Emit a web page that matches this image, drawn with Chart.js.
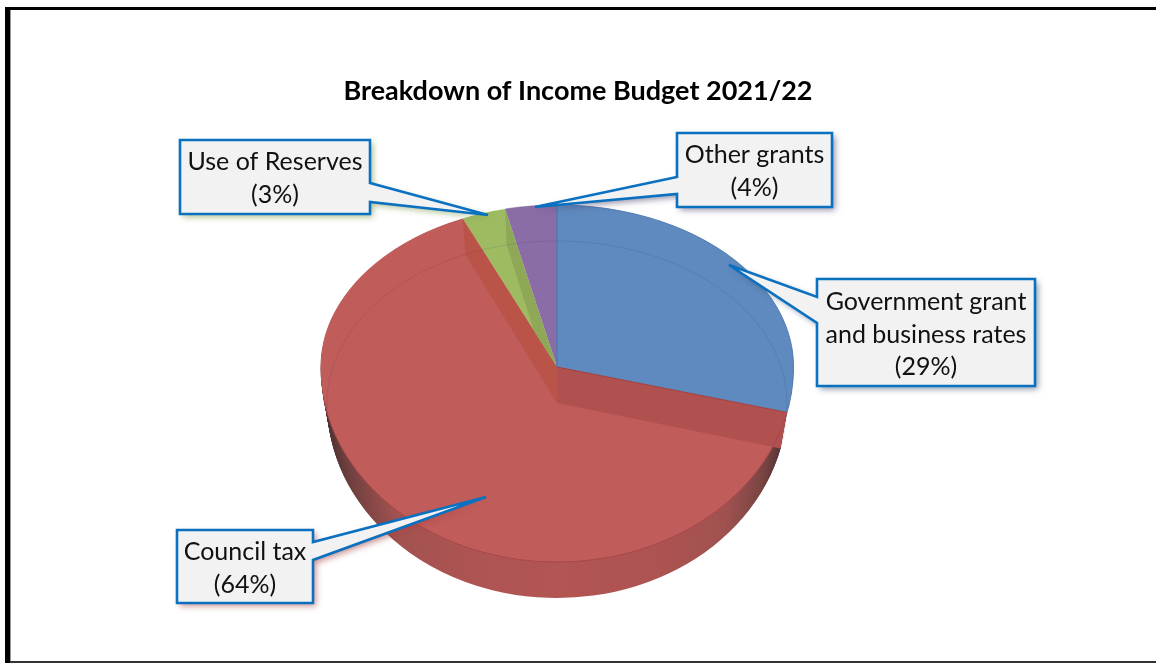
<!DOCTYPE html>
<html><head><meta charset="utf-8">
<style>html,body{margin:0;padding:0;background:#fff;overflow:hidden}canvas{display:block}</style>
<script src="https://cdn.jsdelivr.net/npm/chart.js@4"></script>
</head><body><canvas id="c" width="1156" height="663"></canvas>
<script>
const chartTitle = 'Breakdown of Income Budget 2021/22';
const categories = ['Government grant and business rates', 'Council tax', 'Use of Reserves', 'Other grants'];
const values = [28.6, 64.4, 3.0, 3.5];
const sliceColors = ['#5E8ABF', '#C05D5A', '#9EBB62', '#8A6CA6'];
const labelLines = [['Government grant', 'and business rates', '(29%)'], ['Council tax', '(64%)'], ['Use of Reserves', '(3%)'], ['Other grants', '(4%)']];

// layout of the tilted pie and its callouts (page pixels)
const P = {cx: 557, ay: 367, rx: 236.5, up: 162, down: 195, depth: 36, shrink: 0.972};
const callouts = [
  {box: [817, 279, 1035, 386], side: 'l', a: 297, b: 323, tip: [729, 265], lh: 32.5, y0: 302, shadow: 'rgba(60,80,110,.6)'},
  {box: [177, 530, 313, 603], side: 'r', a: 542, b: 560, tip: [486, 497], lh: 33, y0: 552, shadow: 'rgba(170,70,70,.6)'},
  {box: [180, 140, 370, 214], side: 'r', a: 183, b: 202, tip: [488, 215], lh: 33, y0: 162, shadow: 'rgba(120,150,70,.6)'},
  {box: [677, 133, 832, 207], side: 'l', a: 177, b: 194, tip: [535, 207], lh: 33, y0: 155, shadow: 'rgba(80,70,110,.6)'}
];

function drawArc(ctx, arc, dy, k, fill) {
  const R = arc.outerRadius;
  const saved = arc.options;
  if (fill) { const o = Object.create(saved); o.backgroundColor = fill; arc.options = o; }
  [[P.up, -2000, 2000], [P.down, 0, 2000]].forEach(([ry, top, h]) => {
    ctx.save();
    ctx.beginPath();
    ctx.rect(0, P.ay + dy + top, 1156, h);
    ctx.clip();
    ctx.translate(P.cx, P.ay + dy);
    ctx.scale(P.rx * k / R, ry / R);
    ctx.translate(-arc.x, -arc.y);
    arc.draw(ctx);
    ctx.restore();
  });
  arc.options = saved;
}
function proj(a, dy, k) {
  const X = Math.cos(a), Y = Math.sin(a);
  return [P.cx + P.rx * k * X, P.ay + dy + (Y < 0 ? P.up : P.down) * Y];
}
function rim(ctx, a0, a1, dy, k) {
  // outline along the tilted circle between two canvas angles
  const pts = 160;
  ctx.beginPath();
  for (let i = 0; i <= pts; i++) {
    const p = proj(a0 + (a1 - a0) * i / pts, dy, k);
    i ? ctx.lineTo(p[0], p[1]) : ctx.moveTo(p[0], p[1]);
  }
}
function wallQuad(ctx, a, color) {
  const e0 = proj(a, 0, 1), e1 = proj(a, P.depth, P.shrink);
  ctx.beginPath();
  ctx.moveTo(P.cx, P.ay);
  ctx.lineTo(P.cx, P.ay + P.depth);
  ctx.lineTo(e1[0], e1[1]);
  ctx.lineTo(e0[0], e0[1]);
  ctx.closePath();
  ctx.fillStyle = color;
  ctx.fill();
}

const tiltedPie = {
  id: 'tiltedPie',
  beforeDatasetDraw(chart) {
    const ctx = chart.ctx;
    const arcs = chart.getDatasetMeta(0).data;
    const [blue, red, green, purple] = arcs;
    const R = red.outerRadius;
    // side wall
    const g = ctx.createLinearGradient(red.x - R, 0, red.x + R, 0);
    [[0, '#4a2f2f'], [.05, '#6d3f3e'], [.16, '#a25250'], [.3, '#ad5452'], [.5, '#b25553'], [.72, '#ad5351'], [.86, '#a05250'], [.94, '#7a4443'], [1, '#4a2f2f']]
      .forEach(s => g.addColorStop(s[0], s[1]));
    for (let d = P.depth; d >= 1; d--) {
      drawArc(ctx, red, d, 1 - (1 - P.shrink) * d / P.depth, g);
    }
    // faces
    arcs.forEach(a => drawArc(ctx, a, 0, 1));
    // inner walls seen through the faces
    ctx.save();
    wallQuad(ctx, blue.endAngle, '#B05150');
    wallQuad(ctx, red.endAngle, '#BA5449');
    ctx.save();
    ctx.beginPath();
    const gs = proj(green.startAngle, 0, 1), ge = proj(green.endAngle, 0, 1);
    ctx.moveTo(P.cx, P.ay); ctx.lineTo(gs[0], gs[1]); ctx.lineTo(ge[0], ge[1]); ctx.closePath();
    ctx.clip();
    wallQuad(ctx, green.endAngle, '#8FA858');
    ctx.restore();
    // base circle seen through the faces
    ctx.lineWidth = 1;
    ctx.strokeStyle = 'rgba(40,50,90,.13)';
    rim(ctx, Math.PI * 0.92, Math.PI * 2.09, P.depth, P.shrink);
    ctx.stroke();
    // division line between purple and blue
    ctx.strokeStyle = '#507AB0';
    ctx.lineWidth = 1.5;
    const t = proj(blue.startAngle, 0, 1);
    ctx.beginPath(); ctx.moveTo(t[0], t[1]); ctx.lineTo(P.cx, P.ay); ctx.stroke();
    // edges
    ctx.strokeStyle = '#4B76AD'; ctx.lineWidth = 1;
    rim(ctx, blue.startAngle, blue.endAngle, 0, 1); ctx.stroke();
    ctx.strokeStyle = '#A23F3E'; ctx.lineWidth = 1;
    const e = proj(blue.endAngle, 0, 1);
    ctx.beginPath(); ctx.moveTo(P.cx, P.ay); ctx.lineTo(e[0], e[1]); ctx.stroke();
    ctx.strokeStyle = '#A8474A';
    rim(ctx, blue.endAngle, Math.PI * 0.95, 0, 1); ctx.stroke();
    ctx.strokeStyle = 'rgba(90,80,120,.45)';
    rim(ctx, purple.startAngle, purple.endAngle, 0, 1); ctx.stroke();
    ctx.restore();
    return false;
  },
  beforeDraw(chart) {
    const ctx = chart.ctx;
    ctx.save();
    ctx.fillStyle = '#fff'; ctx.fillRect(0, 0, 1156, 663);
    ctx.fillStyle = '#000';
    ctx.fillRect(5, 7, 1151, 3);
    ctx.fillRect(5, 7, 5, 656);
    ctx.fillStyle = '#999'; ctx.fillRect(10, 10, 1, 651);
    ctx.fillStyle = '#333'; ctx.fillRect(10, 661, 1146, 2);
    ctx.restore();
  },
  afterDraw(chart) {
    const ctx = chart.ctx;
    callouts.forEach((c, i) => {
      const [l, t, r, b] = c.box;
      ctx.save();
      ctx.beginPath();
      ctx.moveTo(l, t);
      ctx.lineTo(r, t);
      if (c.side === 'r') { ctx.lineTo(r, c.a); ctx.lineTo(c.tip[0], c.tip[1]); ctx.lineTo(r, c.b); }
      ctx.lineTo(r, b);
      ctx.lineTo(l, b);
      if (c.side === 'l') { ctx.lineTo(l, c.b); ctx.lineTo(c.tip[0], c.tip[1]); ctx.lineTo(l, c.a); }
      ctx.closePath();
      ctx.save();
      ctx.shadowColor = c.shadow; ctx.shadowBlur = 6; ctx.shadowOffsetX = 3; ctx.shadowOffsetY = 3;
      ctx.fillStyle = '#F2F2F2';
      ctx.fill();
      ctx.restore();
      ctx.lineJoin = 'miter'; ctx.miterLimit = 4;
      ctx.lineWidth = 2.6;
      ctx.strokeStyle = '#0A70C0';
      ctx.stroke();
      ctx.fillStyle = '#111';
      ctx.font = '25px Lato';
      ctx.textAlign = 'center';
      ctx.textBaseline = 'middle';
      labelLines[i].forEach((s, j) => ctx.fillText(s, (l + r) / 2, c.y0 + j * c.lh));
      ctx.restore();
    });
  }
};

new Chart(document.getElementById('c'), {
  type: 'pie',
  data: {labels: categories, datasets: [{data: values, backgroundColor: sliceColors, borderWidth: 0}]},
  plugins: [tiltedPie],
  options: {
    responsive: false, animation: false, devicePixelRatio: 1,
    plugins: {
      legend: {display: false}, tooltip: {enabled: false},
      title: {display: true, text: chartTitle, color: '#000', font: {family: 'Lato', size: 27, weight: 'bold'}, padding: {top: 75, bottom: 10}}
    }
  }
});
</script></body></html>
